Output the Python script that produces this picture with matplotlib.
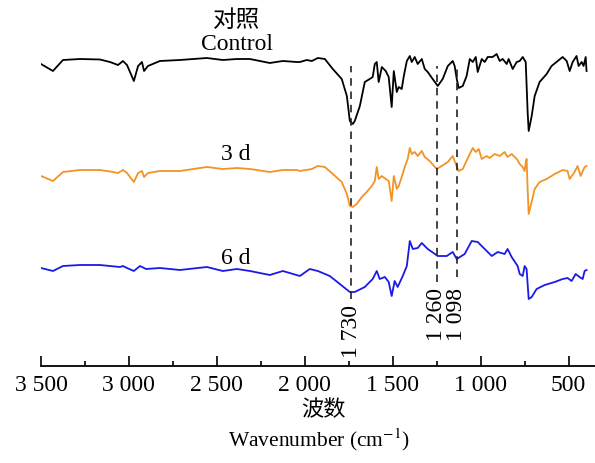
import matplotlib
matplotlib.use("Agg")
import matplotlib.pyplot as plt
import numpy as np

# ---------------- data ----------------
wn_control = [3500, 3432, 3375, 3278, 3165, 3108, 3062, 3034, 3011, 2972, 2948, 2926, 2914, 2892,
              2824, 2710, 2557, 2466, 2386, 2312, 2199, 2125, 2045, 2028, 1989, 1960, 1926, 1886,
              1841, 1790, 1761, 1744, 1727, 1716, 1687, 1659, 1631, 1614, 1602, 1591, 1580, 1562,
              1540, 1523, 1506, 1494, 1477, 1466, 1449, 1437, 1420, 1403, 1392, 1375, 1358, 1335,
              1318, 1301, 1273, 1244, 1216, 1187, 1159, 1148, 1136, 1125, 1102, 1080, 1062, 1045,
              1028, 1017, 994, 977, 960, 932, 909, 892, 875, 852, 841, 818, 795, 778, 761, 744,
              733, 727, 710, 693, 665, 625, 597, 562, 534, 511, 494, 477, 455, 443, 426, 415, 403, 398]
t_control = [102, 95, 106, 107, 106.5, 104, 101, 105, 101, 85, 100, 104, 95, 100,
             105, 106, 108, 106, 107, 107, 103, 105, 104, 104, 106, 105, 108, 107,
             97, 87, 70, 45, 42, 45, 60, 84, 87, 89, 102, 104, 84, 99,
             95, 89, 59, 95, 74, 79, 77, 90, 105, 110, 104, 109, 102, 107,
             97, 94, 87, 80, 87, 100, 105, 100, 87, 78, 80, 90, 107, 104,
             109, 94, 107, 104, 109, 109, 112, 105, 107, 102, 107, 97, 104, 105, 109, 104,
             54, 35, 50, 70, 84, 92, 100, 105, 109, 105, 95, 104, 110, 100, 104, 100, 109, 95]

wn_3d = [3500, 3432, 3375, 3278, 3165, 3108, 3062, 3034, 3011, 2972, 2948, 2926, 2914, 2892,
         2824, 2710, 2557, 2466, 2386, 2312, 2199, 2125, 2045, 2028, 1960, 1926, 1886,
         1841, 1790, 1761, 1744, 1727, 1705, 1676, 1648, 1619, 1602, 1591, 1580, 1562,
         1540, 1523, 1506, 1494, 1477, 1466, 1449, 1432, 1415, 1403, 1392, 1375, 1358, 1335,
         1318, 1290, 1250, 1222, 1187, 1159, 1142, 1125, 1102, 1062, 1045, 1028, 1011, 994,
         966, 949, 920, 892, 864, 847, 824, 795, 778, 761, 750, 744, 739, 733, 727, 716,
         693, 665, 625, 579, 534, 506, 494, 466, 449, 432, 409, 398]
t_3d = [100, 95, 104, 106, 106, 104.5, 103, 106, 103, 94, 103, 105, 99, 103,
        105, 105, 109, 107, 108, 107, 104, 106, 106, 105, 107, 110, 109,
        102, 94, 82, 70, 69, 72, 79, 84, 90, 95, 109, 97, 100,
        97, 95, 75, 100, 87, 90, 99, 109, 117, 128, 122, 124, 120, 125,
        119, 115, 107, 110, 114, 120, 112, 105, 107, 122, 128, 124, 127, 117,
        120, 118, 122, 120, 124, 119, 122, 117, 112, 109, 105, 113, 117, 87, 62, 70,
        87, 94, 97, 102, 106, 105, 97, 104, 110, 100, 109, 110]

wn_6d = [3500, 3432, 3375, 3278, 3165, 3108, 3051, 3034, 3011, 2972, 2937, 2903, 2824, 2710,
         2557, 2466, 2386, 2312, 2199, 2125, 2028, 1972, 1926, 1858, 1801, 1744, 1716, 1659,
         1614, 1591, 1574, 1545, 1523, 1506, 1489, 1472, 1443, 1420, 1403, 1386, 1358, 1335,
         1301, 1244, 1193, 1159, 1136, 1091, 1051, 1017, 977, 937, 903, 864, 847, 824, 790,
         778, 761, 750, 739, 727, 710, 682, 636, 579, 534, 506, 483, 460, 438, 420, 409, 398]
t_6d = [98, 95, 100, 101, 101, 100, 99, 100, 98, 95, 100, 97, 98, 96,
        99, 95, 97, 95, 91, 95, 90, 97, 95, 90, 82, 74, 74, 79,
        87, 95, 87, 89, 84, 70, 85, 79, 90, 100, 125, 117, 118, 123,
        117, 110, 110, 114, 107, 112, 125, 124, 117, 110, 114, 112, 117, 109, 100,
        92, 90, 100, 97, 67, 69, 77, 81, 84, 87, 88, 85, 92, 89, 87, 95, 96]

peak_labels = ["1 730", "1 260", "1 098"]
xticks = [3500, 3000, 2500, 2000, 1500, 1000, 500]
xtick_labels = ["3 500", "3 000", "2 500", "2 000", "1 500", "1 000", "500"]

# ---------------- style ----------------
plt.rcParams['font.family'] = ['Liberation Serif', 'Noto Sans CJK SC']
plt.rcParams['mathtext.fontset'] = 'stix'
FS = 17

fig = plt.figure(figsize=(5.95, 4.64), dpi=100)
ax = fig.add_axes([41 / 595, (464 - 367) / 464, 1 - 41 / 595, 367 / 464])

offsets = [200, 90, 0]
colors = ["#000000", "#F39325", "#1A1AE6"]
for wn, t, off, c in zip([wn_control, wn_3d, wn_6d], [t_control, t_3d, t_6d], offsets, colors):
    ax.plot(wn, np.asarray(t) + off, color=c, lw=1.3, solid_joinstyle='round')

# reference lines
line_pos = [1735, 1248, 1133]
line_bottom = [67, 84, 89]
for x, yb in zip(line_pos, line_bottom):
    ax.plot([x, x], [yb, 300], color="#222222", lw=1.2, ls=(0, (4.5, 3.5)))

label_top = [62, 79, 79]
label_x = [1735, 1250, 1140]
for x, yt, s in zip(label_x, label_top, peak_labels):
    ax.text(x, yt, s, rotation=90, ha='center', va='top', fontsize=FS)

# series labels
ax.text(2386, 346, "对照", ha='center', va='center', fontsize=FS)
ax.text(2386, 323, "Control", ha='center', va='center', fontsize=FS)
ax.text(2390, 213, "3 d", ha='center', va='center', fontsize=FS)
ax.text(2390, 109, "6 d", ha='center', va='center', fontsize=FS)

ax.set_xlim(3500, 350)
ax.set_ylim(0, 367)
for s in ['top', 'right', 'left']:
    ax.spines[s].set_visible(False)
ax.spines['bottom'].set_linewidth(1.3)
ax.set_yticks([])
ax.set_xticks(xticks)
ax.set_xticklabels(xtick_labels, fontsize=FS)
ax.set_xticks([3250, 2750, 2250, 1750, 1250, 750], minor=True)
ax.tick_params(axis='x', which='major', direction='in', length=7, width=1.2, pad=6)
ax.tick_params(axis='x', which='minor', direction='in', length=3.5, width=1.2)

fig.text(323 / 595, 1 - 411 / 464, "波数", ha='center', va='center', fontsize=16)
fig.text(319 / 595, 1 - 440 / 464, "Wavenumber (cm$^{-1}$)", ha='center', va='center', fontsize=15.5)

fig.savefig("out.png", dpi=100)
